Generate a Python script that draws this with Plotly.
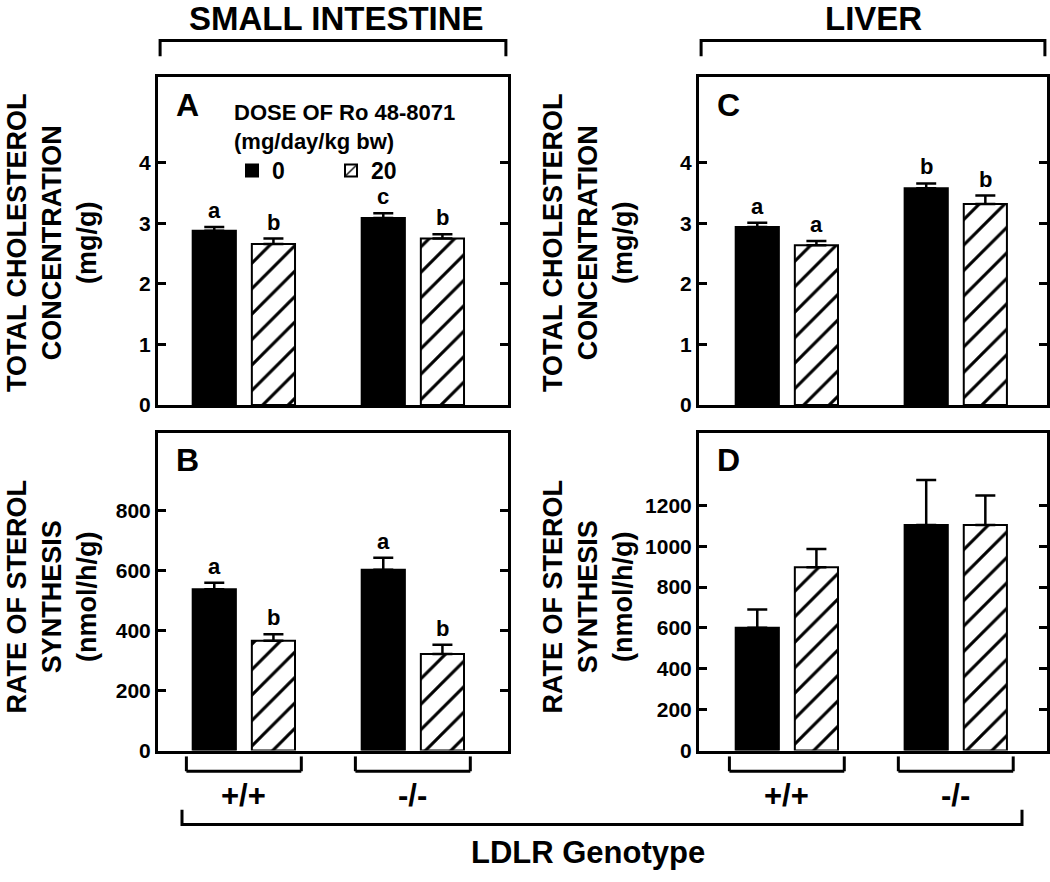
import plotly.graph_objects as go

# ---------------- data ----------------
genotypes = ["+/+", "-/-"]
dose_labels = ["0", "20"]

# Panel A: small intestine, total cholesterol (mg/g)
A_dose0 = [2.88, 3.09]
A_dose0_err = [0.06, 0.08]
A_dose20 = [2.66, 2.75]
A_dose20_err = [0.09, 0.07]
A_let0 = ["a", "c"]
A_let20 = ["b", "b"]

# Panel B: small intestine, sterol synthesis (nmol/h/g)
B_dose0 = [538, 603]
B_dose0_err = [22, 40]
B_dose20 = [366, 322]
B_dose20_err = [22, 31]
B_let0 = ["a", "a"]
B_let20 = ["b", "b"]

# Panel C: liver, total cholesterol (mg/g)
C_dose0 = [2.94, 3.58]
C_dose0_err = [0.07, 0.08]
C_dose20 = [2.64, 3.32]
C_dose20_err = [0.07, 0.14]
C_let0 = ["a", "b"]
C_let20 = ["a", "b"]

# Panel D: liver, sterol synthesis (nmol/h/g)
D_dose0 = [601, 1103]
D_dose0_err = [89, 221]
D_dose20 = [897, 1103]
D_dose20_err = [89, 145]

chol_ticks = [0, 1, 2, 3, 4]
B_ticks = [0, 200, 400, 600, 800]
D_ticks = [0, 200, 400, 600, 800, 1000, 1200]

# ---------------- style ----------------
W, H = 1050, 882
FONT = "Liberation Sans, Arial, Helvetica, sans-serif"
BARGAP = 0.30
BARGROUPGAP = 0.27
SLOT = (1 - BARGAP) / 2


def px_x(p):
    return p / W


def px_y(p):
    return 1 - p / H


dom_left = [px_x(158), px_x(508)]
dom_right = [px_x(699), px_x(1047)]
dom_top = [px_y(410), px_y(78)]
dom_bot = [px_y(760), px_y(438)]

fig = go.Figure()

panels = [
    ("x", "y", A_dose0, A_dose0_err, A_dose20, A_dose20_err, A_let0, A_let20, True),
    ("x2", "y2", B_dose0, B_dose0_err, B_dose20, B_dose20_err, B_let0, B_let20, False),
    ("x3", "y3", C_dose0, C_dose0_err, C_dose20, C_dose20_err, C_let0, C_let20, False),
    ("x4", "y4", D_dose0, D_dose0_err, D_dose20, D_dose20_err, None, None, False),
]

annotations = []
for xa, ya, m0, e0, m20, e20, l0, l20, show in panels:
    fig.add_trace(go.Bar(
        x=genotypes, y=m0, name=dose_labels[0], xaxis=xa, yaxis=ya,
        legendgroup="d0", showlegend=show,
        marker=dict(color="black", line=dict(color="black", width=2)),
        error_y=dict(type="data", array=e0, arrayminus=[0] * len(e0), symmetric=False,
                     color="black", thickness=2.5, width=10),
    ))
    fig.add_trace(go.Bar(
        x=genotypes, y=m20, name=dose_labels[1], xaxis=xa, yaxis=ya,
        legendgroup="d20", showlegend=show,
        marker=dict(color="white", line=dict(color="black", width=2),
                    pattern=dict(shape="/", fgcolor="black", bgcolor="white",
                                 fgopacity=1, size=18, solidity=0.17)),
        error_y=dict(type="data", array=e20, arrayminus=[0] * len(e20), symmetric=False,
                     color="black", thickness=2.5, width=10),
    ))
    if l0 is not None:
        for j, (means, errs, lets) in enumerate([(m0, e0, l0), (m20, e20, l20)]):
            for i in range(len(genotypes)):
                annotations.append(dict(
                    x=i + (j - 0.5) * SLOT, y=means[i] + errs[i], xref=xa, yref=ya,
                    text=lets[i], showarrow=False, yanchor="bottom", yshift=2,
                    font=dict(size=22, family=FONT, color="black", weight="bold"),
                ))

axis_common = dict(showline=True, linecolor="black", linewidth=3, mirror=True,
                   showgrid=False, zeroline=False)
xcommon = dict(axis_common, showticklabels=False, ticks="", type="category")
ycommon = dict(axis_common, mirror="ticks", ticks="inside", ticklen=8, tickwidth=3,
               tickcolor="black",
               tickfont=dict(size=21, family=FONT, color="black", weight="bold"))

xr_left = [-0.508, 1.563]
xr_right = [-0.52, 1.54]

fig.update_layout(
    xaxis=dict(xcommon, domain=dom_left, anchor="y", range=xr_left),
    yaxis=dict(ycommon, domain=dom_top, anchor="x", range=[0, 5.42], tickvals=chol_ticks),
    xaxis2=dict(xcommon, domain=dom_left, anchor="y2", range=xr_left),
    yaxis2=dict(ycommon, domain=dom_bot, anchor="x2", range=[0, 1061], tickvals=B_ticks),
    xaxis3=dict(xcommon, domain=dom_right, anchor="y3", range=xr_right),
    yaxis3=dict(ycommon, domain=dom_top, anchor="x3", range=[0, 5.42], tickvals=chol_ticks),
    xaxis4=dict(xcommon, domain=dom_right, anchor="y4", range=xr_right),
    yaxis4=dict(ycommon, domain=dom_bot, anchor="x4", range=[0, 1556], tickvals=D_ticks),
)

# panel letters
for ref, letter in [("", "A"), ("2", "B"), ("3", "C"), ("4", "D")]:
    annotations.append(dict(
        x=0.045, y=0.915, xref=f"x{ref} domain", yref=f"y{ref} domain",
        xanchor="left", yanchor="middle", text=letter, showarrow=False,
        font=dict(size=32, family=FONT, color="black", weight="bold"),
    ))

# y-axis titles
chol_title = "TOTAL CHOLESTEROL<br>CONCENTRATION<br>(mg/g)"
synth_title = "RATE OF STEROL<br>SYNTHESIS<br>(nmol/h/g)"
for xc, yc, t in [(52, 246, chol_title), (52, 604, synth_title),
                  (588, 246, chol_title), (588, 604, synth_title)]:
    annotations.append(dict(
        x=px_x(xc), y=px_y(yc), xref="paper", yref="paper", textangle=-90,
        xanchor="center", yanchor="middle", text=t, showarrow=False,
        font=dict(size=27, family=FONT, color="black", weight="bold"),
    ))

# tissue headers
for xc, t in [(336, "SMALL INTESTINE"), (873, "LIVER")]:
    annotations.append(dict(
        x=px_x(xc), y=1, xref="paper", yref="paper", yshift=2,
        xanchor="center", yanchor="top", text=t, showarrow=False,
        font=dict(size=33, family=FONT, color="black", weight="bold"),
    ))

# genotype labels under B and D
for xa in ["x2", "x4"]:
    for g in genotypes:
        annotations.append(dict(
            x=g, y=px_y(806), xref=xa, yref="paper", xanchor="center", yanchor="middle",
            text=g, showarrow=False,
            font=dict(size=31, family=FONT, color="black", weight="bold"),
        ))

annotations.append(dict(
    x=px_x(588), y=px_y(863), xref="paper", yref="paper", xanchor="center",
    yanchor="middle", text="LDLR Genotype", showarrow=False,
    font=dict(size=31, family=FONT, color="black", weight="bold"),
))

shapes = []
line = dict(color="black", width=3)
# tissue brackets
for d in [dom_left, dom_right]:
    shapes.append(dict(type="path", xref="paper", yref="paper", line=line,
                       path=f"M {d[0]+0.002},{px_y(57)} L {d[0]+0.002},{px_y(41)} "
                            f"L {d[1]-0.002},{px_y(41)} L {d[1]-0.002},{px_y(57)}"))
# genotype brackets
for xa in ["x2", "x4"]:
    for i in range(len(genotypes)):
        for xx in [i - 0.34, i + 0.34]:
            shapes.append(dict(type="line", xref=xa, yref="paper", x0=xx, x1=xx,
                               y0=px_y(766), y1=px_y(781), line=line))
        shapes.append(dict(type="line", xref=xa, yref="paper", x0=i - 0.34, x1=i + 0.34,
                           y0=px_y(781), y1=px_y(781), line=line))
# overall genotype bracket
shapes.append(dict(type="path", xref="paper", yref="paper", line=line,
                   path=f"M {px_x(182)},{px_y(820)} L {px_x(182)},{px_y(835)} "
                        f"L {px_x(1022)},{px_y(835)} L {px_x(1022)},{px_y(820)}"))

fig.update_layout(
    width=W, height=H, margin=dict(l=0, r=0, t=0, b=0),
    paper_bgcolor="white", plot_bgcolor="white",
    barmode="group", bargap=BARGAP, bargroupgap=BARGROUPGAP,
    font=dict(family=FONT, color="black"),
    annotations=annotations, shapes=shapes,
    legend=dict(
        x=px_x(232), y=px_y(93), xanchor="left", yanchor="top", orientation="h",
        title=dict(text="DOSE OF Ro 48-8071<br>(mg/day/kg bw)", side="top",
                   font=dict(size=22, family=FONT, color="black", weight="bold")),
        font=dict(size=23, family=FONT, color="black", weight="bold"),
        entrywidth=54, bgcolor="rgba(0,0,0,0)", itemwidth=30, traceorder="normal",
    ),
)

fig.write_html("out.html", config={"displayModeBar": False},
               post_script="document.body.style.margin='0';document.body.style.overflow='hidden';")
